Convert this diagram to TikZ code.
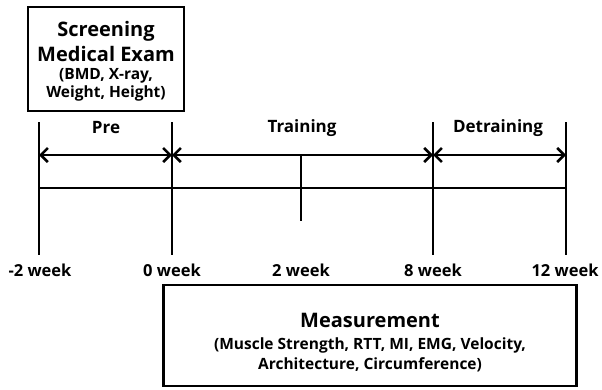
\documentclass[tikz,border=0pt]{standalone}
\usepackage{fontspec}
\setmainfont{Open Sans}
\usetikzlibrary{arrows.meta}
\begin{document}
\begin{tikzpicture}[x=1pt,y=-1pt,
  ln/.style={line width=2.6pt},
  darr/.style={line width=2.6pt,{Straight Barb[length=7pt,width=14pt]}-{Straight Barb[length=7pt,width=14pt]}},
  box/.style={draw,line width=2.8pt,inner sep=0pt},
  lbl/.style={font=\bfseries\fontsize{17}{20}\selectfont},
  wk/.style={font=\bfseries\fontsize{16.5}{20}\selectfont}]
\useasboundingbox (0,0) rectangle (602,389);
% boxes
\node[box,minimum width=156pt,minimum height=104pt] (scr) at (106,59) {};
\node[font=\bfseries\fontsize{20}{25}\selectfont,align=center] (scrt) at (106,41) {Screening\\Medical Exam};
\node[font=\bfseries\fontsize{15.5}{18.5}\selectfont,align=center] (scrs) at (106,85) {(BMD, X-ray,\\Weight, Height)};
\node[box,minimum width=413pt,minimum height=101pt] (mea) at (370,335.5) {};
\node[font=\bfseries\fontsize{20}{24}\selectfont] (meat) at (370,320) {Measurement};
\node[font=\bfseries\fontsize{15.5}{20}\selectfont,align=center] (meas) at (370,355) {(Muscle Strength, RTT, MI, EMG, Velocity,\\Architecture, Circumference)};
% timeline coordinates
\coordinate (t1) at (39,122);  \coordinate (b1) at (39,255);
\coordinate (t2) at (172,122); \coordinate (b2) at (172,255);
\coordinate (t3) at (433,122); \coordinate (b3) at (433,255);
\coordinate (t4) at (566,122); \coordinate (b4) at (566,255);
\coordinate (m2t) at (301,155); \coordinate (m2b) at (301,221);
\draw[ln] (t1) -- (b1);
\draw[ln] (t2) -- (b2);
\draw[ln] (t3) -- (b3);
\draw[ln] (t4) -- (b4);
\draw[ln] (m2t) -- (m2b);
\coordinate (h1) at (39,188); \coordinate (h4) at (566,188);
\draw[ln] (h1) -- (h4);
\coordinate (a1) at (39,155); \coordinate (a2) at (172,155);
\coordinate (a3) at (433,155); \coordinate (a4) at (566,155);
\draw[darr] (a1) -- (a2);
\draw[darr] (a2) -- (a3);
\draw[darr] (a3) -- (a4);
% phase labels
\node[lbl] (pre) at (106,128) {Pre};
\node[lbl] (tr) at (302,128) {Training};
\node[lbl] (de) at (498,128) {Detraining};
% week labels
\node[wk] (w1) at (40,270) {-2 week};
\node[wk] (w2) at (172,270) {0 week};
\node[wk] (w3) at (301,270) {2 week};
\node[wk] (w4) at (433,270) {8 week};
\node[wk] (w5) at (565,270) {12 week};
\end{tikzpicture}
\end{document}
